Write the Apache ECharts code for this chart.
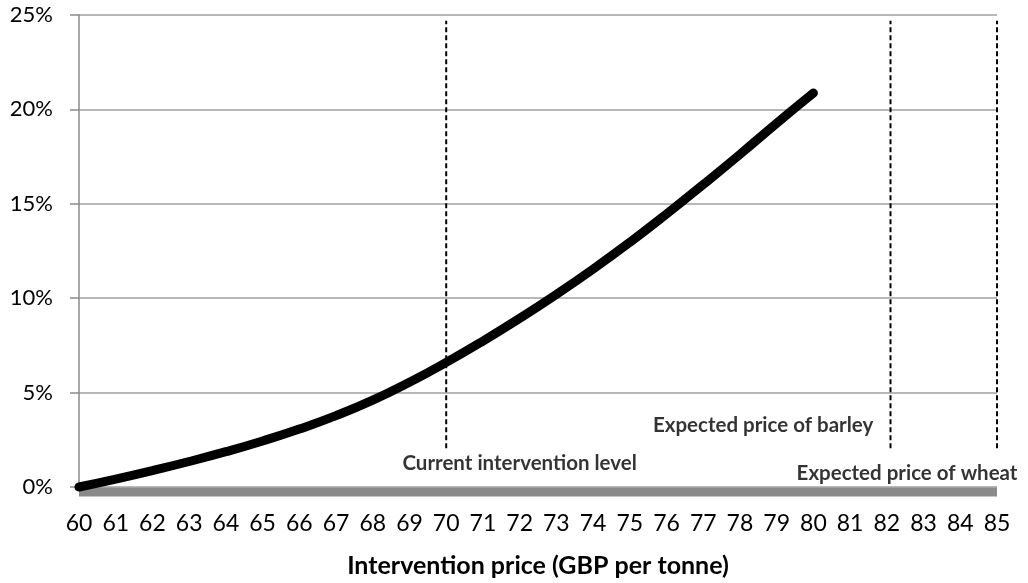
<!DOCTYPE html>
<html>
<head>
<meta charset="utf-8">
<script src="https://cdn.jsdelivr.net/npm/echarts@6/dist/echarts.min.js"></script>
<style>
html,body{margin:0;padding:0;background:#fff;}
#chart{width:1028px;height:583px;}
</style>
</head>
<body>
<div id="chart"></div>
<script>
// Intervention price (GBP per tonne)
const prices = [60,61,62,63,64,65,66,67,68,69,70,71,72,73,74,75,76,77,78,79,80];
// Value (%)
const values = [0,0.42,0.87,1.35,1.87,2.44,3.07,3.78,4.6,5.55,6.6,7.73,8.93,10.2,11.54,12.96,14.46,16.02,17.62,19.27,20.87];
// Grey baseline band (just below 0%) across the full price range
const baseline = [[60,-0.27],[85,-0.27]];
// Reference price levels (vertical dashed lines)
const refPrices = [70, 82.1, 85];
const refLow = 2.05, refHigh = 24.7;
// Annotations: [x, y%, text]
const annotations = [
  [72.0, 1.26, 'Current intervention level'],
  [78.63, 3.26, 'Expected price of barley'],
  [82.55, 0.74, 'Expected price of wheat']
];
const yTicks = [0,5,10,15,20,25];
const xMin = 60, xMax = 85;

const FONT = 'Lato';
const series = [];
series.push({
  type:'line',
  data: baseline,
  symbol:'none',
  clip:false,
  lineStyle:{color:'#8a8a8a', width:9, cap:'butt'},
  z:2
});
series.push({
  type: 'line',
  data: prices.map((p,i)=>[p, values[i]]),
  smooth: true,
  symbol: 'none',
  clip:false,
  lineStyle: {color:'#000', width: 9, cap:'round', join:'round'},
  z: 5
});
refPrices.forEach(p => {
  series.push({
    type:'line',
    data:[[p,refLow],[p,refHigh]],
    symbol:'none',
    lineStyle:{color:'#000', width:2, type:[5,3]},
    z:3
  });
});
series.push({
  type:'scatter',
  symbolSize:0,
  data: annotations.map(a=>({value:[a[0],a[1]], name:a[2]})),
  label:{show:true, position:'inside', formatter:p=>p.name, color:'#000',
         fontFamily:FONT, fontWeight:'bold', fontSize:20.5},
  z:6
});

const chart = echarts.init(document.getElementById('chart'));
chart.setOption({
  animation:false,
  backgroundColor:'#fff',
  grid:{left:79, right:31, top:15, bottom:92},
  xAxis:{
    type:'value', min:xMin, max:xMax, interval:1,
    axisLine:{show:false, onZero:false},
    axisTick:{show:false},
    splitLine:{show:false},
    axisLabel:{color:'#000', fontFamily:FONT, fontSize:23, margin:25},
    name:'Intervention price (GBP per tonne)',
    nameLocation:'middle', nameGap:66,
    nameTextStyle:{color:'#000', fontFamily:FONT, fontWeight:'bold', fontSize:25}
  },
  yAxis:{
    type:'value', min:yTicks[0], max:yTicks[yTicks.length-1], interval:5,
    axisLine:{show:true, lineStyle:{color:'#8a8a8a', width:1.5}},
    axisTick:{show:true, length:9, lineStyle:{color:'#8a8a8a', width:1.5}},
    splitLine:{show:true, lineStyle:{color:'#a0a0a0', width:1.5}},
    axisLabel:{color:'#000', fontFamily:FONT, fontSize:22, margin:26, formatter:'{value}%'}
  },
  series: series
});
</script>
</body>
</html>
